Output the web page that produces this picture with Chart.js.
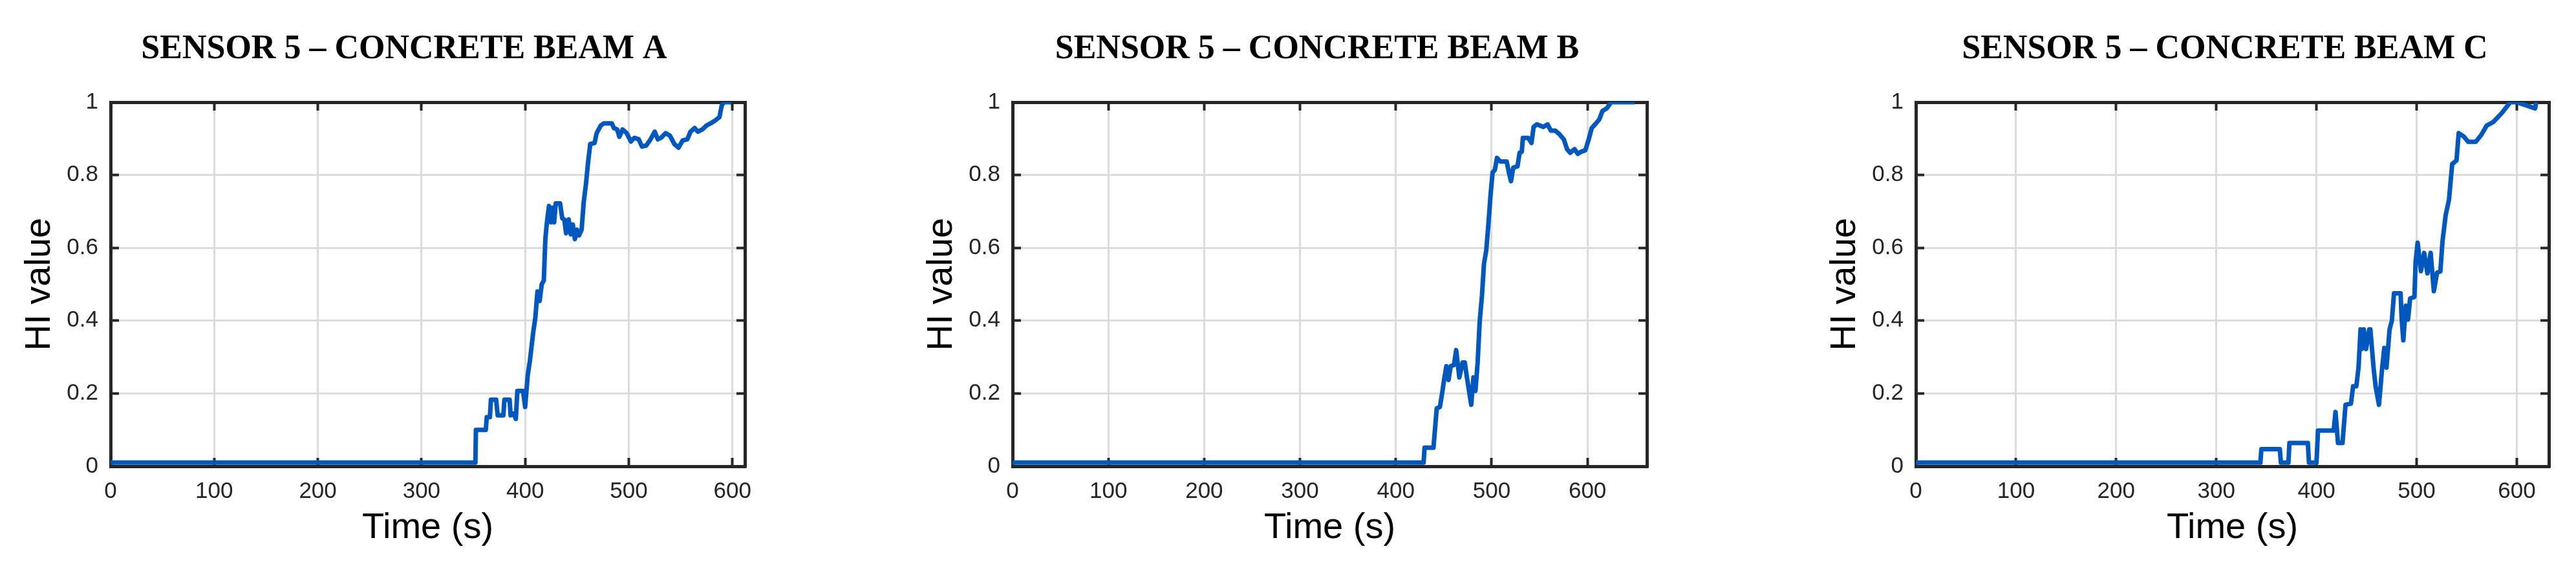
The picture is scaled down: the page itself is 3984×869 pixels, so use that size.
<!DOCTYPE html>
<html>
<head>
<meta charset="utf-8">
<script src="https://cdn.jsdelivr.net/npm/chart.js@4"></script>
<style>
  html, body { margin: 0; padding: 0; background: #fff; overflow: hidden; }
  body { width: 3984px; height: 869px; position: relative; }
  canvas { position: absolute; top: 0; }
</style>
</head>
<body>
<canvas id="chartA"></canvas>
<canvas id="chartB"></canvas>
<canvas id="chartC"></canvas>
<script>
// --- data ---
const titles = ["SENSOR 5 \u2013 CONCRETE BEAM A", "SENSOR 5 \u2013 CONCRETE BEAM B", "SENSOR 5 \u2013 CONCRETE BEAM C"];
const xTicks = [0, 100, 200, 300, 400, 500, 600];
const yTicks = [0, 0.2, 0.4, 0.6, 0.8, 1];
const xLimits = [612, 662, 632];

const timeA = [0, 352, 352.5, 362, 363, 366, 367, 372, 373.5, 379, 380, 385, 386, 389, 391, 392.5, 398, 400,
  402.5, 404.6, 407.7, 409.8, 411.9, 414, 416, 418, 419.5, 421, 423, 425, 426.4, 428, 429.5, 433.7, 435.8,
  437.8, 439.5, 442, 444, 446, 448, 450, 452, 454.5, 456.5, 458.6, 460.7, 462.8, 467, 469, 473, 476, 483.6,
  485.6, 488.8, 490.9, 494, 498, 502, 505.4, 509.6, 512.7, 516.8, 521, 525, 528, 531, 535.5, 539.7, 544,
  548, 552, 556.5, 559.5, 563.6, 566.7, 571, 575, 579, 583, 587.5, 589.6, 591.7, 599];
const hiA = [0.01, 0.01, 0.10, 0.10, 0.135, 0.135, 0.183, 0.183, 0.14, 0.14, 0.183, 0.183, 0.14, 0.145, 0.13, 0.207, 0.207, 0.163,
  0.25, 0.29, 0.366, 0.407, 0.48, 0.454, 0.50, 0.51, 0.624, 0.67, 0.715, 0.67, 0.71, 0.67, 0.722, 0.722, 0.681,
  0.678, 0.64, 0.678, 0.637, 0.664, 0.624, 0.65, 0.634, 0.65, 0.725, 0.773, 0.834, 0.885, 0.888, 0.915, 0.936, 0.942, 0.942,
  0.929, 0.925, 0.905, 0.925, 0.915, 0.892, 0.902, 0.898, 0.878, 0.881, 0.898, 0.919, 0.898, 0.902, 0.915, 0.908, 0.885,
  0.875, 0.895, 0.898, 0.919, 0.929, 0.919, 0.925, 0.936, 0.942, 0.949, 0.959, 0.99, 1.0, 1.0];

const timeB = [0, 429, 430, 439.3, 442.7, 446, 448.3, 450.6, 452.8, 455, 457.3, 460.7, 463, 466.3, 469.7, 472, 474.2,
  476.4, 478.7, 481, 483.1, 485.4, 487.6, 489.9, 492, 494.4, 496.6, 498.9, 501, 503.4, 505.6, 509, 515.7, 518,
  520.2, 522.5, 527, 529.2, 531.5, 532.6, 538.2, 541.6, 543.8, 547.2, 554, 558.4, 561.8, 566.3, 570.8, 575.3,
  578.7, 582, 586.5, 590, 593.3, 597.8, 601, 604.5, 609, 612.4, 615.7, 620.2, 624.7, 649.4];
const hiB = [0.01, 0.01, 0.051, 0.051, 0.159, 0.163, 0.2, 0.241, 0.275, 0.237, 0.275, 0.278, 0.319, 0.244, 0.285, 0.285, 0.244,
  0.207, 0.169, 0.244, 0.207, 0.285, 0.4, 0.468, 0.556, 0.593, 0.664, 0.746, 0.807, 0.814, 0.847, 0.837, 0.837, 0.807,
  0.783, 0.82, 0.824, 0.861, 0.864, 0.902, 0.902, 0.888, 0.932, 0.939, 0.932, 0.939, 0.922, 0.922, 0.912, 0.898,
  0.871, 0.861, 0.871, 0.858, 0.864, 0.868, 0.895, 0.929, 0.942, 0.953, 0.976, 0.983, 1.0, 1.0];

const timeC = [0, 344, 345, 363.4, 364.5, 372, 373, 391.4, 392.5, 400, 401.5, 417.2, 419, 421.5, 426, 429, 434.4,
  436.6, 439.8, 442, 444, 445.2, 447.3, 449.5, 452.7, 453.8, 457, 459, 462.4, 465.6, 467.7, 469.9, 473, 475.3,
  477.4, 484, 485, 486.7, 489.2, 491.4, 493.5, 497.8, 499, 501, 504.3, 507.5, 510.8, 514, 517.2, 520.4, 523.7,
  525.8, 529, 532.3, 535.5, 539.8, 542, 547.3, 551.6, 559, 564.5, 570, 576.3, 585, 593.5, 600, 610.8, 618.3, 619.4];
const hiC = [0.01, 0.01, 0.047, 0.047, 0.01, 0.01, 0.064, 0.064, 0.01, 0.01, 0.098, 0.098, 0.149, 0.064, 0.064, 0.169, 0.172,
  0.22, 0.22, 0.271, 0.376, 0.322, 0.376, 0.322, 0.376, 0.376, 0.271, 0.22, 0.169, 0.271, 0.325, 0.271, 0.376, 0.4,
  0.475, 0.475, 0.407, 0.346, 0.441, 0.403, 0.461, 0.465, 0.563, 0.614, 0.536, 0.586, 0.53, 0.586, 0.481, 0.532, 0.535,
  0.617, 0.69, 0.732, 0.83, 0.84, 0.915, 0.905, 0.891, 0.891, 0.91, 0.936, 0.945, 0.97, 1.0, 1.0, 0.99, 0.983, 1.0];

const seriesTime = [timeA, timeB, timeC];
const seriesHI = [hiA, hiB, hiC];

// --- layout of the three panels (canvas left, canvas width, right box width) ---
const panels = [
  { id: "chartA", left: 0,    width: 1250, rightBox: 98 },
  { id: "chartB", left: 1395, width: 1284, rightBox: 132 },
  { id: "chartC", left: 2792, width: 1298, rightBox: 148 }
];

const H = 869;
const leftBox = 171;
const bottomBox = 148;
const topBox = 10;
const boxColor = "#262626";
const gridColor = "#dcdcdc";
const lineColor = "#0057be";
const tickFont = { family: "Liberation Sans, Arial, sans-serif", size: 35 };
const labelFont = { family: "Liberation Sans, Arial, sans-serif", size: 56 };

function setTicks(list) {
  return s => { s.ticks = list.map(v => ({ value: v })); };
}

function frameGrid(onArea) {
  return {
    display: true,
    drawOnChartArea: onArea,
    drawTicks: true,
    color: gridColor,
    lineWidth: 3,
    tickColor: boxColor,
    tickWidth: 4,
    tickLength: -13
  };
}

const border = { display: true, color: boxColor, width: 5 };

panels.forEach((p, i) => {
  const cv = document.getElementById(p.id);
  cv.width = p.width;
  cv.height = H;
  cv.style.left = p.left + "px";
  cv.style.width = p.width + "px";
  cv.style.height = H + "px";

  const points = seriesTime[i].map((t, k) => ({ x: t, y: seriesHI[i][k] }));

  new Chart(cv, {
    type: "line",
    data: {
      datasets: [{
        data: points,
        borderColor: lineColor,
        borderWidth: 7,
        pointRadius: 0,
        tension: 0,
        borderJoinStyle: "round",
        xAxisID: "x",
        yAxisID: "y"
      }]
    },
    options: {
      responsive: false,
      animation: false,
      layout: { padding: 0 },
      plugins: {
        legend: { display: false },
        tooltip: { enabled: false },
        title: {
          display: true,
          text: titles[i],
          color: "#000",
          font: { family: "Liberation Serif, Times New Roman, serif", size: 52, weight: "bold" },
          padding: { top: 45, bottom: 40.6 }
        }
      },
      scales: {
        x: {
          type: "linear",
          position: "bottom",
          min: 0,
          max: xLimits[i],
          afterBuildTicks: setTicks(xTicks),
          afterFit: s => { s.height = bottomBox; },
          grid: frameGrid(true),
          border: border,
          ticks: { color: "#262626", font: tickFont, padding: 31, maxRotation: 0, autoSkip: false,
                   callback: v => String(v) },
          title: { display: true, text: "Time (s)", color: "#000", font: labelFont, padding: { top: 0, bottom: 19 } }
        },
        x2: {
          type: "linear",
          position: "top",
          min: 0,
          max: xLimits[i],
          afterBuildTicks: setTicks(xTicks),
          afterFit: s => { s.height = topBox; },
          grid: frameGrid(false),
          border: border,
          ticks: { display: false }
        },
        y: {
          type: "linear",
          position: "left",
          min: 0,
          max: 1,
          afterBuildTicks: setTicks(yTicks),
          afterFit: s => { s.width = leftBox; },
          grid: frameGrid(true),
          border: border,
          ticks: { color: "#262626", font: tickFont, padding: 32, autoSkip: false,
                   callback: v => String(v) },
          title: { display: true, text: "HI value", color: "#000", font: labelFont, padding: { top: 28, bottom: 0 } }
        },
        y2: {
          type: "linear",
          position: "right",
          min: 0,
          max: 1,
          afterBuildTicks: setTicks(yTicks),
          afterFit: s => { s.width = p.rightBox; },
          grid: frameGrid(false),
          border: border,
          ticks: { display: false }
        }
      }
    }
  });
});
</script>
</body>
</html>
